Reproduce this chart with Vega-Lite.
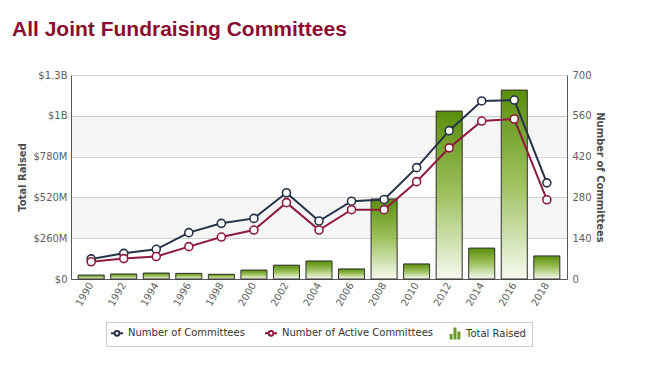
{
  "$schema": "https://vega.github.io/schema/vega-lite/v6.json",
  "width": 496,
  "height": 204,
  "autosize": "none",
  "padding": {"left": 71, "top": 75, "right": 82, "bottom": 94},
  "background": "white",
  "title": {
    "text": "All Joint Fundraising Committees",
    "anchor": "start",
    "frame": "group",
    "dx": -59,
    "offset": 30,
    "font": "Liberation Sans",
    "fontSize": 21,
    "fontWeight": "bold",
    "color": "#8b0d32"
  },
  "config": {
    "view": {"stroke": null},
    "axis": {
      "labelFont": "DejaVu Sans",
      "labelFontSize": 10,
      "labelColor": "#606060",
      "titleFont": "DejaVu Sans",
      "titleFontSize": 10,
      "titleFontWeight": "bold",
      "titleColor": "#4d4d4d",
      "domainColor": "#5a5a5a",
      "gridColor": "#d4d4d4",
      "ticks": false
    }
  },
  "datasets": {
    "raised": [
      {"year": "1990", "total": 25000000},
      {"year": "1992", "total": 32000000},
      {"year": "1994", "total": 38000000},
      {"year": "1996", "total": 36000000},
      {"year": "1998", "total": 30000000},
      {"year": "2000", "total": 57000000},
      {"year": "2002", "total": 88000000},
      {"year": "2004", "total": 115000000},
      {"year": "2006", "total": 64000000},
      {"year": "2008", "total": 510000000},
      {"year": "2010", "total": 96000000},
      {"year": "2012", "total": 1070000000},
      {"year": "2014", "total": 197000000},
      {"year": "2016", "total": 1204000000},
      {"year": "2018", "total": 147000000}
    ],
    "counts": [
      {"year": "1990", "series": "Number of Committees", "count": 69},
      {"year": "1992", "series": "Number of Committees", "count": 88},
      {"year": "1994", "series": "Number of Committees", "count": 102},
      {"year": "1996", "series": "Number of Committees", "count": 159},
      {"year": "1998", "series": "Number of Committees", "count": 191},
      {"year": "2000", "series": "Number of Committees", "count": 208},
      {"year": "2002", "series": "Number of Committees", "count": 296},
      {"year": "2004", "series": "Number of Committees", "count": 199},
      {"year": "2006", "series": "Number of Committees", "count": 267},
      {"year": "2008", "series": "Number of Committees", "count": 273},
      {"year": "2010", "series": "Number of Committees", "count": 382},
      {"year": "2012", "series": "Number of Committees", "count": 509},
      {"year": "2014", "series": "Number of Committees", "count": 611},
      {"year": "2016", "series": "Number of Committees", "count": 614},
      {"year": "2018", "series": "Number of Committees", "count": 330},
      {"year": "1990", "series": "Number of Active Committees", "count": 59},
      {"year": "1992", "series": "Number of Active Committees", "count": 70},
      {"year": "1994", "series": "Number of Active Committees", "count": 77},
      {"year": "1996", "series": "Number of Active Committees", "count": 111},
      {"year": "1998", "series": "Number of Active Committees", "count": 144},
      {"year": "2000", "series": "Number of Active Committees", "count": 168},
      {"year": "2002", "series": "Number of Active Committees", "count": 262},
      {"year": "2004", "series": "Number of Active Committees", "count": 168},
      {"year": "2006", "series": "Number of Active Committees", "count": 238},
      {"year": "2008", "series": "Number of Active Committees", "count": 238},
      {"year": "2010", "series": "Number of Active Committees", "count": 334},
      {"year": "2012", "series": "Number of Active Committees", "count": 450},
      {"year": "2014", "series": "Number of Active Committees", "count": 542},
      {"year": "2016", "series": "Number of Active Committees", "count": 549},
      {"year": "2018", "series": "Number of Active Committees", "count": 272}
    ],
    "bands": [
      {"lo": 260000000, "hi": 520000000},
      {"lo": 780000000, "hi": 1040000000}
    ]
  },
  "layer": [
    {
      "layer": [
        {
          "data": {"name": "bands"},
          "mark": {"type": "rect", "fill": "#000000", "opacity": 0.04},
          "encoding": {
            "x": {"value": 0},
            "x2": {"value": "width"},
            "y": {
              "field": "lo",
              "type": "quantitative",
              "scale": {"domain": [0, 1300000000]},
              "axis": {
                "title": "Total Raised",
                "orient": "left",
                "values": [0, 260000000, 520000000, 780000000, 1040000000, 1300000000],
                "labelExpr": "datum.value == 0 ? '$0' : (datum.value >= 1000000000 ? '$' + format(datum.value / 1000000000, '.2~r') + 'B' : '$' + format(datum.value / 1000000, 'd') + 'M')",
                "labelPadding": 4,
                "titlePadding": 5,
                "grid": true
              }
            },
            "y2": {"field": "hi"}
          }
        },
        {
          "data": {"name": "raised"},
          "mark": {
            "type": "bar",
            "stroke": "#2e2e2e",
            "strokeWidth": 1,
            "fill": {
              "x1": 0, "y1": 0, "x2": 0, "y2": 1,
              "gradient": "linear",
              "stops": [
                {"offset": 0, "color": "#5a8e0c"},
                {"offset": 0.5, "color": "#9fc260"},
                {"offset": 1, "color": "#f7faf0"}
              ]
            }
          },
          "encoding": {
            "x": {
              "field": "year",
              "type": "ordinal",
              "scale": {"paddingInner": 0.2, "paddingOuter": 0.22},
              "axis": {"title": null, "labelAngle": -60, "labelPadding": 4}
            },
            "y": {
              "field": "total",
              "type": "quantitative",
              "scale": {"domain": [0, 1300000000]},
              "axis": {
                "title": "Total Raised",
                "orient": "left",
                "values": [0, 260000000, 520000000, 780000000, 1040000000, 1300000000],
                "labelExpr": "datum.value == 0 ? '$0' : (datum.value >= 1000000000 ? '$' + format(datum.value / 1000000000, '.2~r') + 'B' : '$' + format(datum.value / 1000000, 'd') + 'M')",
                "labelPadding": 4,
                "titlePadding": 5,
                "grid": true
              }
            }
          }
        }
      ]
    },
    {
      "data": {"name": "counts"},
      "mark": {
        "type": "line",
        "strokeWidth": 2,
        "point": {"filled": false, "fill": "white", "size": 64, "strokeWidth": 1.6}
      },
      "encoding": {
        "x": {
          "field": "year",
          "type": "ordinal",
          "scale": {"paddingInner": 0.2, "paddingOuter": 0.22},
          "axis": {"title": null, "labelAngle": -60, "labelPadding": 4}
        },
        "y": {
          "field": "count",
          "type": "quantitative",
          "scale": {"domain": [0, 700]},
          "axis": {
            "title": "Number of Committees",
            "orient": "right",
            "values": [0, 140, 280, 420, 560, 700],
            "grid": false,
            "labelPadding": 5,
            "titlePadding": 3
          }
        },
        "color": {
          "field": "series",
          "type": "nominal",
          "scale": {
            "domain": ["Number of Committees", "Number of Active Committees", "Total Raised"],
            "range": ["#253248", "#8e1a3d", "#6a9a20"]
          },
          "legend": {
            "orient": "none",
            "legendX": 35,
            "legendY": 247,
            "direction": "horizontal",
            "columns": 3,
            "title": null,
            "padding": 6,
            "strokeColor": "#cccccc",
            "fillColor": "white",
            "symbolSize": 144,
            "labelFont": "DejaVu Sans",
            "labelFontSize": 10,
            "labelColor": "#333333",
            "labelOffset": 6,
            "columnPadding": 16,
            "encode": {
              "symbols": {
                "update": {
                  "shape": {"signal": "datum.value === 'Total Raised' ? 'M-0.9,1V0.1H-0.4V1Z M-0.25,1V-1H0.25V1Z M0.4,1V-0.35H0.9V1Z' : 'M-1,0H-0.4 M0.4,0H1 M0.4,0A0.4,0.4 0 1 1 -0.4,0A0.4,0.4 0 1 1 0.4,0Z'"},
                  "fill": {"signal": "datum.value === 'Total Raised' ? '#6a9a20' : 'white'"},
                  "strokeWidth": {"signal": "datum.value === 'Total Raised' ? 0 : 2"},
                  "opacity": {"value": 1}
                }
              }
            }
          }
        }
      }
    }
  ],
  "resolve": {"scale": {"y": "independent"}}
}
